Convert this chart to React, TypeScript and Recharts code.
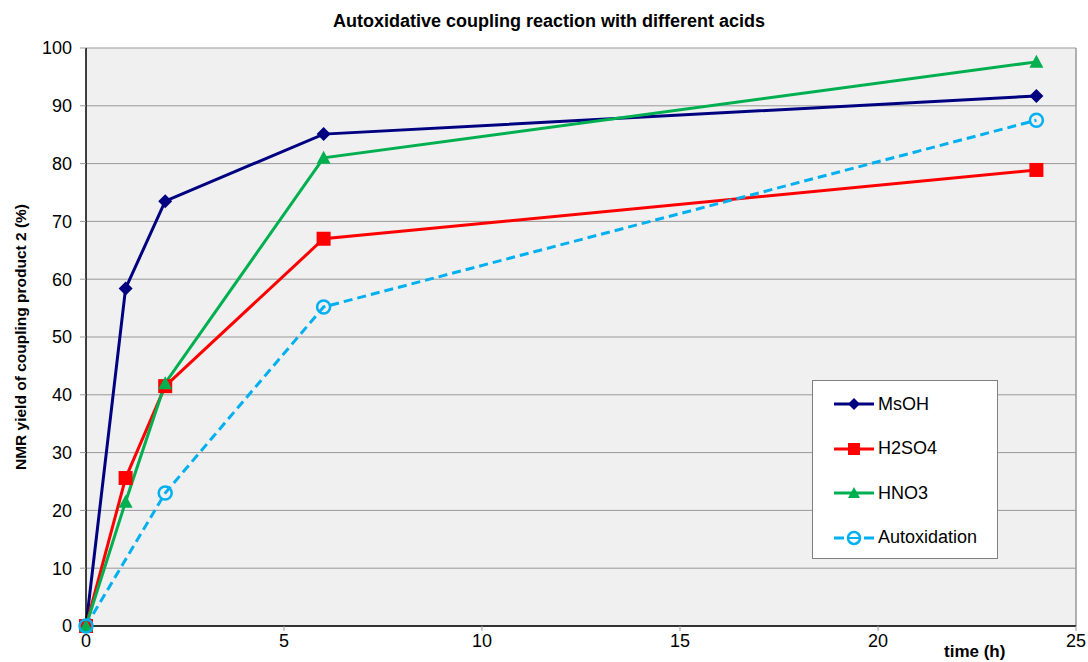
import { LineChart, Line, XAxis, YAxis, CartesianGrid, ReferenceLine } from 'recharts';

const times = [0, 1, 2, 6, 24];
const msoh = [0, 58.4, 73.5, 85.1, 91.7];
const h2so4 = [0, 25.6, 41.5, 67.0, 78.9];
const hno3 = [0, 21.5, 42.0, 81.0, 97.6];
const autox = [0, null, 23.0, 55.2, 87.5];
const xTicks = [0, 5, 10, 15, 20, 25];
const yTicks = [0, 10, 20, 30, 40, 50, 60, 70, 80, 90, 100];

const data = times.map((t, i) => ({
  t,
  msoh: msoh[i],
  h2so4: h2so4[i],
  hno3: hno3[i],
  autox: autox[i],
}));

const NAVY = '#000080';
const RED = '#ff0000';
const GREEN = '#00b050';
const CYAN = '#00b0f0';
const FONT = '"Liberation Sans", Arial, sans-serif';

const Diamond = ({ cx, cy }: any) =>
  cx == null || cy == null ? null : (
    <polygon points={`${cx},${cy - 7} ${cx + 7},${cy} ${cx},${cy + 7} ${cx - 7},${cy}`} fill={NAVY} />
  );

const Square = ({ cx, cy }: any) =>
  cx == null || cy == null ? null : <rect x={cx - 7} y={cy - 7} width={14} height={14} fill={RED} />;

const Triangle = ({ cx, cy }: any) =>
  cx == null || cy == null ? null : (
    <polygon points={`${cx},${cy - 7} ${cx + 7},${cy + 6} ${cx - 7},${cy + 6}`} fill={GREEN} />
  );

const Ring = ({ cx, cy }: any) =>
  cx == null || cy == null ? null : (
    <circle cx={cx} cy={cy} r={6.5} fill="none" stroke={CYAN} strokeWidth={2.5} />
  );

const legendItems = [
  { name: 'MsOH', color: NAVY, mark: 'diamond' },
  { name: 'H2SO4', color: RED, mark: 'square' },
  { name: 'HNO3', color: GREEN, mark: 'triangle' },
  { name: 'Autoxidation', color: CYAN, mark: 'ring' },
];

// legend box drawn over the lower right of the plot
function LegendBox() {
  return (
    <div
      style={{
        position: 'absolute',
        left: 812,
        top: 380,
        width: 186,
        height: 179,
        border: '1px solid #808080',
        background: '#ffffff',
        boxSizing: 'border-box',
        fontFamily: FONT,
        fontSize: 18,
        color: '#000',
      }}
    >
      {legendItems.map((it, i) => (
        <div key={it.name} style={{ position: 'absolute', left: 20, top: 10 + i * 44.5, height: 26, display: 'flex', alignItems: 'center' }}>
          <svg width={44} height={20} style={{ marginRight: 1 }}>
            {it.mark === 'ring' ? (
              <g>
                <line x1={1} y1={10} x2={11} y2={10} stroke={it.color} strokeWidth={3} />
                <line x1={31} y1={10} x2={41} y2={10} stroke={it.color} strokeWidth={3} />
                <circle cx={21} cy={10} r={6} fill="none" stroke={it.color} strokeWidth={2.5} />
                <line x1={16} y1={10} x2={26} y2={10} stroke={it.color} strokeWidth={2} />
              </g>
            ) : (
              <line x1={1} y1={10} x2={41} y2={10} stroke={it.color} strokeWidth={3} />
            )}
            {it.mark === 'diamond' && <polygon points="21,4 27,10 21,16 15,10" fill={it.color} />}
            {it.mark === 'square' && <rect x={15} y={4} width={12} height={12} fill={it.color} />}
            {it.mark === 'triangle' && <polygon points="21,4 27,15 15,15" fill={it.color} />}
          </svg>
          <span>{it.name}</span>
        </div>
      ))}
    </div>
  );
}

export default function App() {
  return (
    <div style={{ position: 'absolute', left: 0, top: 0, width: 1088, height: 662, background: '#fff' }}>
      <LineChart width={1088} height={662} data={data} margin={{ top: 48, right: 12, left: 0, bottom: 0 }}>
        <CartesianGrid vertical={false} fill="#f0f0f0" stroke="#999999" strokeWidth={1} />
        <XAxis
          dataKey="t"
          type="number"
          domain={[0, 25]}
          ticks={xTicks}
          height={36}
          axisLine={{ stroke: '#000', strokeWidth: 1.5 }}
          tickLine={{ stroke: '#999' }}
          tickSize={5}
          tickMargin={3}
          tick={{ fill: '#000', fontSize: 18, fontFamily: FONT }}
        />
        <YAxis
          type="number"
          domain={[0, 100]}
          ticks={yTicks}
          width={86}
          axisLine={{ stroke: '#000', strokeWidth: 1.5 }}
          tickLine={{ stroke: '#999' }}
          tickSize={6}
          tickMargin={8}
          tick={{ fill: '#000', fontSize: 18, fontFamily: FONT }}
        />
        <ReferenceLine x={25} stroke="#999" strokeWidth={1.5} />
        <Line
          dataKey="msoh"
          stroke={NAVY}
          strokeWidth={3}
          dot={<Diamond />}
          activeDot={false}
          isAnimationActive={false}
        />
        <Line
          dataKey="h2so4"
          stroke={RED}
          strokeWidth={3}
          dot={<Square />}
          activeDot={false}
          isAnimationActive={false}
        />
        <Line
          dataKey="hno3"
          stroke={GREEN}
          strokeWidth={3}
          dot={<Triangle />}
          activeDot={false}
          isAnimationActive={false}
        />
        <Line
          dataKey="autox"
          stroke={CYAN}
          strokeWidth={3}
          strokeDasharray="9 5"
          connectNulls
          dot={<Ring />}
          activeDot={false}
          isAnimationActive={false}
        />
      </LineChart>
      <LegendBox />
      <div
        style={{
          position: 'absolute',
          left: 0,
          top: 11,
          width: 1098,
          textAlign: 'center',
          fontFamily: FONT,
          fontWeight: 'bold',
          fontSize: 18,
        }}
      >
        Autoxidative coupling reaction with different acids
      </div>
      <div
        style={{
          position: 'absolute',
          left: 21,
          top: 337,
          transform: 'translate(-50%, -50%) rotate(-90deg)',
          whiteSpace: 'nowrap',
          fontFamily: FONT,
          fontWeight: 'bold',
          fontSize: 15.5,
        }}
      >
        NMR yield of coupling product 2 (%)
      </div>
      <div
        style={{
          position: 'absolute',
          left: 944,
          top: 642,
          fontFamily: FONT,
          fontWeight: 'bold',
          fontSize: 17,
        }}
      >
        time (h)
      </div>
    </div>
  );
}
